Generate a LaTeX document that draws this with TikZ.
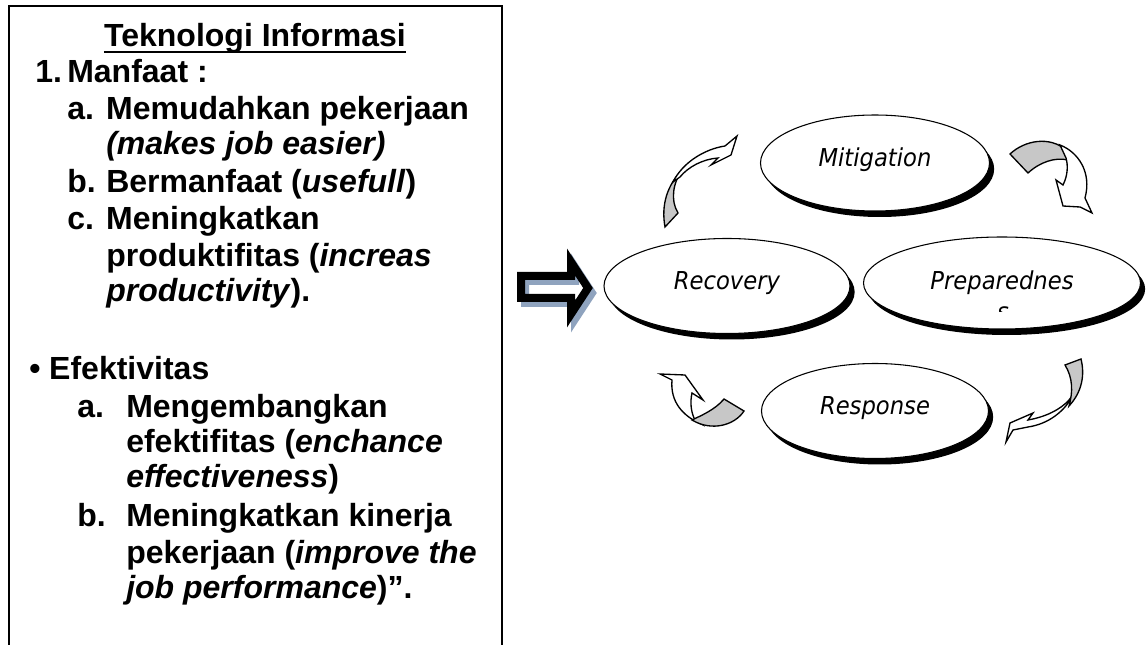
\documentclass[tikz,border=0pt]{standalone}
\usepackage{fontspec}
\setmainfont{Liberation Sans}
\newfontfamily\cyclefont{DejaVu Sans}[FakeStretch=0.92]
\usetikzlibrary{shapes.geometric,shadows}
\definecolor{arrowshade}{RGB}{143,163,190}

\begin{document}
\begin{tikzpicture}[x=0.75pt,y=-0.75pt,
    entry/.style={anchor=base west,inner sep=0pt,font=\bfseries\fontsize{24}{27.5}\selectfont},
    phase/.style={ellipse,draw,line width=0.8pt,fill=white,inner sep=0pt,
                  text height=11.5pt,text depth=5.5pt,
                  drop shadow={shadow xshift=3.5pt,shadow yshift=-4.5pt,opacity=1,fill=black},
                  font=\cyclefont\itshape\fontsize{18.5}{22}\selectfont},
    turnfront/.style={draw,line width=1pt,fill=white},
    turnback/.style={draw,line width=1pt,fill=black!22}]

  \path[fill=white,use as bounding box] (0,0) rectangle (1147,645);

  % text box
  \draw[line width=0.9pt] (9,645) -- (9,6) -- (502,6) -- (502,645);
  \node[entry,anchor=base] (title) at (255,47) {Teknologi Informasi};
  \draw[line width=1.6pt] ([yshift=-4pt]title.base west) -- ([yshift=-4pt]title.base east);

  \node[entry] (manfaat)    at (35,83)  {\makebox[24pt][l]{1.}Manfaat :};
  \node[entry] (mudah)      at (67,120) {\makebox[29.25pt][l]{a.}Memudahkan pekerjaan};
  \node[entry] (mudahEn)    at (106,155) {\textit{(makes job easier)}};
  \node[entry] (guna)       at (67,193) {\makebox[29.25pt][l]{b.}Bermanfaat (\textit{usefull})};
  \node[entry] (produktif)  at (67,230) {\makebox[29.25pt][l]{c.}Meningkatkan};
  \node[entry] (produktifA) at (106,267) {produktifitas (\textit{increas}};
  \node[entry] (produktifB) at (106,302) {\textit{productivity}).};

  \node[entry] (efektif)    at (29,380) {\makebox[15pt][l]{\textbullet}Efektivitas};
  \node[entry] (kembang)    at (77,417) {\makebox[36.75pt][l]{a.}Mengembangkan};
  \node[entry] (kembangA)   at (126,453) {efektifitas (\textit{enchance}};
  \node[entry] (kembangB)   at (126,488) {\textit{effectiveness})};
  \node[entry] (kinerja)    at (77,527) {\makebox[36.75pt][l]{b.}Meningkatkan kinerja};
  \node[entry] (kinerjaA)   at (126,563) {pekerjaan (\textit{improve the}};
  \node[entry] (kinerjaB)   at (126,598) {\textit{job performance})”.};

  % block arrow
  \draw[line width=6pt,arrowshade,shift={(4,5)}] (521,276) -- (571,276) -- (571,262) -- (588,288)
        -- (571,314) -- (571,298) -- (521,298) -- cycle;
  \draw[line width=6pt] (521,276) -- (571,276) -- (571,262) -- (588,288)
        -- (571,314) -- (571,298) -- (521,298) -- cycle;

  % cycle
  \node[phase,minimum width=171.75pt,minimum height=72pt]    (mitigation)   at (875,163)  {Mitigation};
  \node[phase,minimum width=184.5pt,minimum height=71.25pt]  (recovery)     at (727,286)  {Recovery};
  \node[phase,minimum width=207.75pt,minimum height=69pt,
        text height=14pt,text depth=3.5pt]                   (preparedness) at (1002,283) {Preparednes};
  \node[phase,minimum width=170.25pt,minimum height=71.25pt] (response)     at (875,411)  {Response};

  \begin{scope}
    \clip (950,300) rectangle (1060,312);
    \node[font=\cyclefont\itshape\fontsize{18.5}{22}\selectfont,anchor=base,inner sep=0pt]
          (prepS) at (1003,321) {s};
  \end{scope}

  % turning arrows
  \draw[turnback] (665,227) .. controls (661,205) and (667,185) .. (683,169)
        .. controls (673,182) and (670,200) .. (678,213) -- cycle;
  \draw[turnfront] (673,182) .. controls (683,162) and (705,149) .. (725,146) -- (737,136) -- (731,155)
        -- (711,165) -- (718,158) .. controls (703,159) and (688,167) .. (680,177) -- cycle;

  \draw[turnback] (1010,154) .. controls (1025,140) and (1050,136) .. (1066,150) -- (1068,160)
        .. controls (1055,157) and (1040,162) .. (1028,173) -- cycle;
  \draw[turnfront] (1060,145) .. controls (1078,152) and (1092,172) .. (1085,198) -- (1092,213)
        -- (1080,207) -- (1063,206) -- (1056,180) -- (1063,185)
        .. controls (1068,175) and (1068,165) .. (1066,158) -- cycle;

  \draw[turnfront] (1069,400) .. controls (1060,410) and (1045,417) .. (1028,420) -- (1033,413)
        -- (1010,423) -- (1006,442) -- (1013,430) -- (1028,427)
        .. controls (1048,424) and (1065,412) .. (1075,392) -- cycle;
  \draw[turnback] (1065,365) -- (1081,359) .. controls (1085,375) and (1082,392) .. (1069,406)
        .. controls (1073,392) and (1073,378) .. (1065,365) -- cycle;

  \draw[turnfront] (660,374) -- (685,375) -- (703,400) -- (692,393) .. controls (690,402) and (691,411) .. (694,418)
        -- (701,424) .. controls (683,416) and (670,402) .. (672,380) -- cycle;
  \draw[turnback] (724,399) -- (744,411) .. controls (735,425) and (712,432) .. (692,420)
        .. controls (700,416) and (715,410) .. (724,399) -- cycle;
\end{tikzpicture}
\end{document}
